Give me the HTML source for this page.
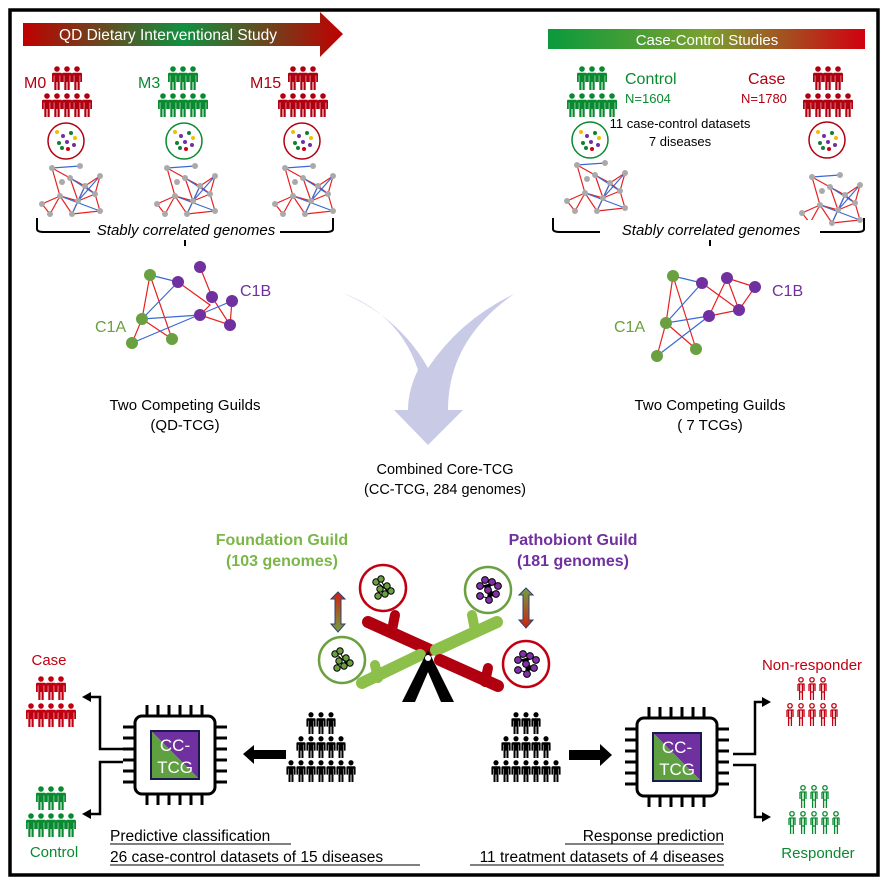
<!DOCTYPE html>
<html><head><meta charset="utf-8"><style>
html,body{margin:0;padding:0;background:#fff}
svg{display:block}
text{font-family:"Liberation Sans",Arial,sans-serif}
</style></head><body>
<svg width="888" height="886" viewBox="0 0 888 886" xmlns="http://www.w3.org/2000/svg">
<defs>
<linearGradient id="g1" x1="0" x2="1" y1="0" y2="0"><stop offset="0" stop-color="#c00000"/><stop offset="0.5" stop-color="#109040"/><stop offset="1" stop-color="#c00000"/></linearGradient>
<linearGradient id="g2" x1="0" x2="1"><stop offset="0" stop-color="#0a9a3c"/><stop offset="0.5" stop-color="#7aa030"/><stop offset="1" stop-color="#d00010"/></linearGradient>
<linearGradient id="ga" x1="0" x2="0" y1="0" y2="1"><stop offset="0" stop-color="#d02010"/><stop offset="1" stop-color="#70a040"/></linearGradient>
<linearGradient id="gb" x1="0" x2="0" y1="0" y2="1"><stop offset="0" stop-color="#70a040"/><stop offset="1" stop-color="#d02010"/></linearGradient>
<symbol id="p" viewBox="0 0 10 24" overflow="visible"><circle cx="5" cy="3" r="2.8"/><path d="M1.2,6.8 h7.6 a1.2,1.2 0 0 1 1.2,1.2 v8 h-1.8 v-6.5 h-0.5 v14.5 h-2.2 v-8 h-1 v8 h-2.2 v-14.5 h-0.5 v6.5 h-1.8 v-8 a1.2,1.2 0 0 1 1.2,-1.2z"/></symbol>
<symbol id="po" viewBox="0 0 10 24" overflow="visible"><circle cx="5" cy="2.8" r="2.2" fill="#fff"/><path d="M2,7 h6 v7 M2,7 v7 M3.6,7.5 v15.5 M6.4,7.5 v15.5 M3.6,15 h2.8" fill="none"/></symbol>
<g id="grp"><use href="#p" x="10" y="0" width="10" height="24"/><use href="#p" x="20" y="0" width="10" height="24"/><use href="#p" x="30" y="0" width="10" height="24"/><use href="#p" x="0" y="27" width="10" height="24"/><use href="#p" x="10" y="27" width="10" height="24"/><use href="#p" x="20" y="27" width="10" height="24"/><use href="#p" x="30" y="27" width="10" height="24"/><use href="#p" x="40" y="27" width="10" height="24"/></g>
<g id="grpo" stroke-width="1.3"><use href="#po" x="11" y="0" width="10" height="24"/><use href="#po" x="22" y="0" width="10" height="24"/><use href="#po" x="33" y="0" width="10" height="24"/><use href="#po" x="0" y="26" width="10" height="24"/><use href="#po" x="11" y="26" width="10" height="24"/><use href="#po" x="22" y="26" width="10" height="24"/><use href="#po" x="33" y="26" width="10" height="24"/><use href="#po" x="44" y="26" width="10" height="24"/></g>
<g id="big"><use href="#p" x="20" y="0" width="10" height="22"/><use href="#p" x="30" y="0" width="10" height="22"/><use href="#p" x="40" y="0" width="10" height="22"/><use href="#p" x="10" y="24" width="10" height="22"/><use href="#p" x="20" y="24" width="10" height="22"/><use href="#p" x="30" y="24" width="10" height="22"/><use href="#p" x="40" y="24" width="10" height="22"/><use href="#p" x="50" y="24" width="10" height="22"/><use href="#p" x="0" y="48" width="10" height="22"/><use href="#p" x="10" y="48" width="10" height="22"/><use href="#p" x="20" y="48" width="10" height="22"/><use href="#p" x="30" y="48" width="10" height="22"/><use href="#p" x="40" y="48" width="10" height="22"/><use href="#p" x="50" y="48" width="10" height="22"/><use href="#p" x="60" y="48" width="10" height="22"/></g>
<g id="net" fill="none"><g stroke="#e82020" stroke-width="1.2"><path d="M2,2 L20,12 L35,20 L28,35 L10,30 L2,2 M20,12 L28,35 L45,28 L35,20 M10,30 L-8,38 L0,48 L10,30 L22,48 L28,35 M45,28 L50,10 L35,20 M22,48 L50,45 L45,28"/></g><g stroke="#3a6ad0" stroke-width="1.2"><path d="M2,2 L30,0 M20,12 L45,28 M35,20 L22,48 M10,30 L50,45 M28,35 L50,10"/></g><g fill="#aaa"><circle cx="2" cy="2" r="3"/><circle cx="30" cy="0" r="3"/><circle cx="20" cy="12" r="3"/><circle cx="35" cy="20" r="3"/><circle cx="28" cy="35" r="3"/><circle cx="10" cy="30" r="3"/><circle cx="45" cy="28" r="3"/><circle cx="50" cy="10" r="3"/><circle cx="-8" cy="38" r="3"/><circle cx="0" cy="48" r="3"/><circle cx="22" cy="48" r="3"/><circle cx="50" cy="45" r="3"/><circle cx="12" cy="16" r="3"/></g></g>
<g id="chip"><g stroke="#000" stroke-width="3"><path d="M-28,-50 v12 M-17,-50 v12 M-6,-50 v12 M5,-50 v12 M16,-50 v12 M27,-50 v12 M-28,38 v12 M-17,38 v12 M-6,38 v12 M5,38 v12 M16,38 v12 M27,38 v12 M-52,-28 h12 M-52,-17 h12 M-52,-6 h12 M-52,5 h12 M-52,16 h12 M-52,27 h12 M40,-28 h12 M40,-17 h12 M40,-6 h12 M40,5 h12 M40,16 h12 M40,27 h12"/></g><rect x="-40" y="-39" width="80" height="78" rx="7" fill="#fff" stroke="#000" stroke-width="3"/><path d="M-24,-24 h48 v48z" fill="#7030a0"/><path d="M-24,-24 v48 h48z" fill="#5fa040"/><rect x="-24" y="-24" width="48" height="48" fill="none" stroke="#1a1a50" stroke-width="2"/><text x="0" y="-4" fill="#fff" font-size="17" text-anchor="middle">CC-</text><text x="0" y="18" fill="#fff" font-size="17" text-anchor="middle">TCG</text></g>
<g id="gc" stroke="#000" stroke-width="1"><path d="M-6,-6 L6,4 M-2,-8 L4,4 M-6,6 L0,0" /><g fill="#6aa040"><circle cx="-7" cy="-6" r="3.2"/><circle cx="-2" cy="-9" r="3.2"/><circle cx="4" cy="-2" r="3.2"/><circle cx="-3" cy="1" r="3.2"/><circle cx="8" cy="3" r="3.2"/><circle cx="2" cy="6" r="3.2"/><circle cx="-5" cy="8" r="3.2"/></g></g>
<g id="pc" stroke="#000" stroke-width="1"><path d="M-8,-4 L0,-2 L8,-8 M0,-2 L0,8 L8,4 M-8,6 L0,8"/><g fill="#8030a8"><circle cx="-8" cy="-4" r="3.4"/><circle cx="-3" cy="-10" r="3.4"/><circle cx="4" cy="-8" r="3.4"/><circle cx="10" cy="-4" r="3.4"/><circle cx="0" cy="0" r="3.4"/><circle cx="8" cy="4" r="3.4"/><circle cx="-8" cy="6" r="3.4"/><circle cx="1" cy="10" r="3.4"/></g></g>
</defs>
<rect x="10" y="10" width="868" height="865" fill="none" stroke="#000" stroke-width="3.5"/>
<path d="M23,23 H320 V12 L343,34 L320,57 V46 H23Z" fill="url(#g1)"/>
<text x="168" y="40" fill="#fff" font-size="15.5" text-anchor="middle">QD Dietary Interventional Study</text>
<rect x="548" y="29" width="317" height="20" fill="url(#g2)"/>
<text x="707" y="45" fill="#fff" font-size="15" text-anchor="middle">Case-Control Studies</text>
<g fill="#b00010"><use href="#grp" x="42" y="66"/><use href="#grp" x="278" y="66"/><use href="#grp" x="803" y="66"/></g>
<g fill="#0a8a30"><use href="#grp" x="158" y="66"/><use href="#grp" x="567" y="66"/></g>
<text x="24" y="88" fill="#b00010" font-size="16">M0</text>
<text x="138" y="88" fill="#0a8a30" font-size="16">M3</text>
<text x="250" y="88" fill="#b00010" font-size="16">M15</text>
<text x="625" y="84" fill="#0a8a30" font-size="16">Control</text>
<text x="625" y="103" fill="#0a8a30" font-size="13">N=1604</text>
<text x="748" y="84" fill="#b00010" font-size="16">Case</text>
<text x="741" y="103" fill="#b00010" font-size="13">N=1780</text>
<text x="680" y="128" font-size="13" text-anchor="middle">11 case-control datasets</text>
<text x="680" y="146" font-size="13" text-anchor="middle">7 diseases</text>
<g fill="none" stroke-width="1.5"><circle cx="66" cy="141" r="18" stroke="#b00010"/><circle cx="184" cy="141" r="18" stroke="#0a8a30"/><circle cx="302" cy="141" r="18" stroke="#b00010"/><circle cx="590" cy="140" r="18" stroke="#0a8a30"/><circle cx="827" cy="140" r="18" stroke="#b00010"/></g>
<g id="dots"><circle cx="57" cy="132" r="2" fill="#f0c000"/><circle cx="63" cy="136" r="2" fill="#7030a0"/><circle cx="71" cy="133" r="2" fill="#108030"/><circle cx="75" cy="138" r="2" fill="#f0c000"/><circle cx="59" cy="143" r="2" fill="#108030"/><circle cx="67" cy="142" r="2" fill="#7030a0"/><circle cx="74" cy="145" r="2" fill="#7030a0"/><circle cx="62" cy="148" r="2" fill="#108030"/><circle cx="68" cy="149" r="2" fill="#d00010"/></g>
<use href="#dots" x="118"/><use href="#dots" x="236"/><use href="#dots" x="524"/><use href="#dots" x="761"/>
<use href="#net" x="50" y="166"/><use href="#net" x="165" y="166"/><use href="#net" x="283" y="166"/><use href="#net" x="575" y="163"/><use href="#net" x="810" y="175"/>
<path d="M37,218 V229 Q37,232 44,232 H181 Q185,232 185,238 V246 M185,238 Q185,232 189,232 H326 Q333,232 333,229 V218" fill="none" stroke="#000" stroke-width="2"/>
<path d="M553,218 V229 Q553,232 560,232 H706 Q710,232 710,238 V246 M710,238 Q710,232 714,232 H857 Q864,232 864,229 V218" fill="none" stroke="#000" stroke-width="2"/>
<rect x="90" y="220" width="190" height="20" fill="#fff"/><rect x="600" y="220" width="220" height="20" fill="#fff"/>
<text x="186" y="235" font-size="15" font-style="italic" text-anchor="middle">Stably correlated genomes</text>
<text x="711" y="235" font-size="15" font-style="italic" text-anchor="middle">Stably correlated genomes</text>
<!-- right guild network -->
<g stroke-width="1.2" fill="none"><path d="M673,276 L666,323 L657,356 M673,276 L696,349 M666,323 L696,349 M702,283 L739,310 M727,278 L755,287 L739,310 L727,278 M727,278 L709,316 M709,316 L739,310" stroke="#e82020"/><path d="M673,276 L702,283 L666,323 L709,316 M657,356 L709,316" stroke="#3a6ad0"/></g>
<g fill="#6aa040"><circle cx="673" cy="276" r="6"/><circle cx="666" cy="323" r="6"/><circle cx="657" cy="356" r="6"/><circle cx="696" cy="349" r="6"/></g>
<g fill="#7030a0"><circle cx="702" cy="283" r="6"/><circle cx="727" cy="278" r="6"/><circle cx="755" cy="287" r="6"/><circle cx="739" cy="310" r="6"/><circle cx="709" cy="316" r="6"/></g>
<g transform="translate(150,275)"><g stroke-width="1.2" fill="none"><path d="M0,0 L-8,44 L-18,68 M0,0 L22,64 L-8,44 M50,-8 L62,22 L80,50 M50,40 L80,50 L82,26 M28,7 L60,30 L50,40" stroke="#e82020"/><path d="M0,0 L28,7 L-8,44 M-8,44 L50,40 M-18,68 L82,26" stroke="#3a6ad0"/></g><g fill="#6aa040"><circle cx="0" cy="0" r="6"/><circle cx="-8" cy="44" r="6"/><circle cx="-18" cy="68" r="6"/><circle cx="22" cy="64" r="6"/></g><g fill="#7030a0"><circle cx="28" cy="7" r="6"/><circle cx="50" cy="-8" r="6"/><circle cx="62" cy="22" r="6"/><circle cx="82" cy="26" r="6"/><circle cx="80" cy="50" r="6"/><circle cx="50" cy="40" r="6"/></g></g>
<text x="95" y="332" fill="#6aa040" font-size="16">C1A</text>
<text x="240" y="296" fill="#7030a0" font-size="16">C1B</text>
<text x="614" y="332" fill="#6aa040" font-size="16">C1A</text>
<text x="772" y="296" fill="#7030a0" font-size="16">C1B</text>
<text x="185" y="410" font-size="15" text-anchor="middle">Two Competing Guilds</text>
<text x="185" y="430" font-size="15" text-anchor="middle">(QD-TCG)</text>
<text x="710" y="410" font-size="15" text-anchor="middle">Two Competing Guilds</text>
<text x="710" y="430" font-size="15" text-anchor="middle">( 7 TCGs)</text>
<path d="M343,293 Q400,315 418,370 Q408,390 408,410 L394,410 L428,445 L463,410 L448,410 Q448,340 514,294 Q460,320 428,368 Q400,318 343,293Z" fill="#c9cbe6"/>
<text x="445" y="474" font-size="14.5" text-anchor="middle">Combined Core-TCG</text>
<text x="445" y="494" font-size="14.5" text-anchor="middle">(CC-TCG, 284 genomes)</text>
<text x="282" y="545" fill="#7ab648" font-size="16" font-weight="bold" text-anchor="middle">Foundation Guild</text>
<text x="282" y="566" fill="#7ab648" font-size="16" font-weight="bold" text-anchor="middle">(103 genomes)</text>
<text x="573" y="545" fill="#7030a0" font-size="16" font-weight="bold" text-anchor="middle">Pathobiont  Guild</text>
<text x="573" y="566" fill="#7030a0" font-size="16" font-weight="bold" text-anchor="middle">(181 genomes)</text>
<g stroke-linecap="round" fill="none"><path d="M368,622 L430,650" stroke="#b00010" stroke-width="12"/><path d="M395,615 L392,630" stroke="#b00010" stroke-width="10"/><path d="M362,683 L420,655" stroke="#8cc04a" stroke-width="12"/><path d="M375,665 L378,678" stroke="#8cc04a" stroke-width="10"/><path d="M436,650 L497,622" stroke="#8cc04a" stroke-width="12"/><path d="M472,615 L475,630" stroke="#8cc04a" stroke-width="10"/><path d="M440,660 L498,686" stroke="#b00010" stroke-width="12"/><path d="M488,668 L485,682" stroke="#b00010" stroke-width="10"/></g>
<path d="M428,650 L454,702 L441,702 L428,672 L415,702 L402,702Z" fill="#000"/><circle cx="428" cy="658" r="3" fill="#fff"/>
<g stroke-width="2.5" fill="#fff"><circle cx="383" cy="588" r="23" stroke="#c00010"/><circle cx="342" cy="660" r="23" stroke="#6aa040"/><circle cx="488" cy="590" r="23" stroke="#6aa040"/><circle cx="526" cy="664" r="23" stroke="#c00010"/></g>
<use href="#gc" x="383" y="588"/><use href="#gc" x="342" y="660"/>
<use href="#pc" x="488" y="590"/><use href="#pc" x="526" y="664"/>
<g stroke="#304070" stroke-width="1"><path d="M338,592 L345,599 L341,599 L341,624 L345,624 L338,632 L331,624 L335,624 L335,599 L331,599Z" fill="url(#ga)"/><path d="M526,588 L533,595 L529,595 L529,620 L533,620 L526,628 L519,620 L523,620 L523,595 L519,595Z" fill="url(#gb)"/></g>
<text x="49" y="665" fill="#c00010" font-size="15" text-anchor="middle">Case</text>
<g fill="#c00010"><use href="#grp" x="26" y="676"/></g>
<g fill="#0a8a30"><use href="#grp" x="26" y="786"/></g>
<text x="54" y="857" fill="#0a8a30" font-size="15" text-anchor="middle">Control</text>
<path d="M123,749 H100 V697 H88 M123,762 H100 V814 H88" fill="none" stroke="#000" stroke-width="2.5"/>
<path d="M82,697 L91,692 L91,702Z M82,814 L91,809 L91,819Z" fill="#000"/>
<use href="#chip" x="175" y="755"/>
<path d="M243,754 L254,745 L254,750 L286,750 L286,759 L254,759 L254,764Z" fill="#000"/>
<use href="#big" x="286" y="712"/>
<text x="110" y="841" font-size="15.5">Predictive classification</text>
<line x1="110" y1="844" x2="291" y2="844" stroke="#000"/>
<text x="110" y="862" font-size="15.5">26 case-control datasets of 15 diseases</text>
<line x1="110" y1="865" x2="420" y2="865" stroke="#000"/>
<use href="#big" x="491" y="712"/>
<path d="M569,750 L600,750 L600,744 L612,755 L600,766 L600,760 L569,760Z" fill="#000"/>
<use href="#chip" x="677" y="757"/>
<path d="M733,754 H755 V702 H765 M733,765 H755 V817 H765" fill="none" stroke="#000" stroke-width="2.5"/>
<path d="M771,702 L762,697 L762,707Z M771,817 L762,812 L762,822Z" fill="#000"/>
<text x="812" y="670" fill="#c00010" font-size="15" text-anchor="middle">Non-responder</text>
<g stroke="#c00010"><use href="#grpo" x="785" y="677"/></g>
<g stroke="#0a8a30"><use href="#grpo" x="787" y="785"/></g>
<text x="818" y="858" fill="#0a8a30" font-size="15" text-anchor="middle">Responder</text>
<text x="724" y="841" font-size="15.5" text-anchor="end">Response prediction</text>
<line x1="565" y1="844" x2="724" y2="844" stroke="#000"/>
<text x="724" y="862" font-size="15.5" text-anchor="end">11 treatment datasets of 4 diseases</text>
<line x1="470" y1="865" x2="724" y2="865" stroke="#000"/>
</svg>
</body></html>
